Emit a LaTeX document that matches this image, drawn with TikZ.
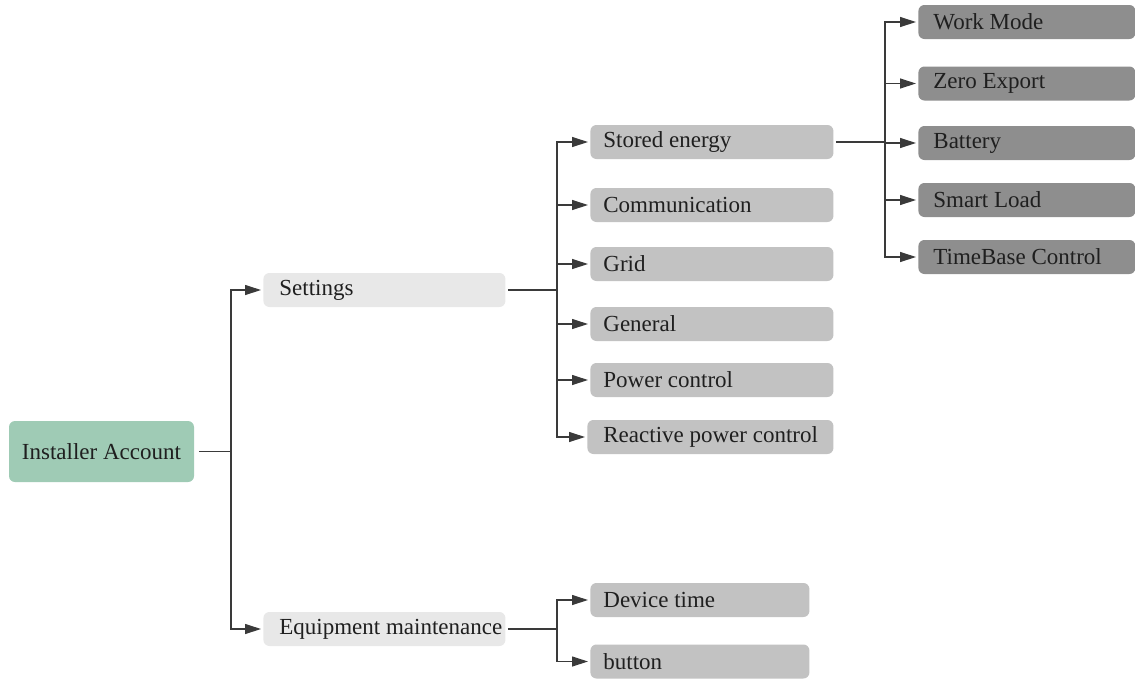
\documentclass[tikz,border=0pt]{standalone}
\usepackage{fontspec}
\setmainfont{Liberation Serif}
\usetikzlibrary{arrows.meta}
\definecolor{rootgreen}{HTML}{9FCBB5}
\definecolor{boxone}{HTML}{E8E8E8}
\definecolor{boxtwo}{HTML}{C2C2C2}
\definecolor{boxthree}{HTML}{8E8E8E}
\definecolor{linegray}{HTML}{3A3A3A}
\begin{document}
\begin{tikzpicture}[x=0.5pt,y=-0.5pt,
	box/.style={rounded corners=3pt,anchor=west,align=flush left,minimum height=17pt,inner sep=0pt,
		font=\fontsize{11.5}{13}\selectfont,text=black!88},
	pad/.style={execute at begin node={\hspace*{#1}}},
	rootbox/.style={box,anchor=center,align=flush center,fill=rootgreen,minimum width=92.5pt,minimum height=30.5pt},
	lvlone/.style={box,fill=boxone,text width=121pt,pad=8pt},
	lvltwo/.style={box,fill=boxtwo,text width=121.5pt,pad=6.5pt},
	lvlthree/.style={box,fill=boxthree,text width=108.5pt,pad=7.5pt},
	link/.style={draw=linegray,line width=0.6pt},
	linkarrow/.style={link,-{Triangle[length=8pt,width=5pt]},shorten >=1pt}]
	\useasboundingbox (0,0) rectangle (1135,681);
	\node[rootbox] (root) at (101.5,451.5) {Installer Account};
	\node[lvlone] (set) at (263,290) {Settings};
	\node[lvlone] (eqp) at (263,629) {Equipment maintenance};
	\node[lvltwo] (sto) at (590,142) {Stored energy};
	\node[lvltwo] (com) at (590,205) {Communication};
	\node[lvltwo] (grd) at (590,264) {Grid};
	\node[lvltwo] (gen) at (590,324) {General};
	\node[lvltwo] (pwr) at (590,380) {Power control};
	\node[lvltwo,text width=123pt,pad=1.5pt] (rea) at (587,437) {Reactive power control};
	\node[lvltwo,text width=109.5pt] (dev) at (590,600) {Device time};
	\node[lvltwo,text width=109.5pt] (btn) at (590,661.5) {button};
	\node[lvlthree] (wrk) at (918,22) {Work Mode};
	\node[lvlthree] (zer) at (918,83.5) {Zero Export};
	\node[lvlthree] (bat) at (918,143) {Battery};
	\node[lvlthree] (sml) at (918,200) {Smart Load};
	\node[lvlthree] (tbc) at (918,257) {TimeBase Control};
	\coordinate (jroot) at (231,451.5);
	\coordinate (jset) at (557,290);
	\coordinate (jsto) at (885,142);
	\coordinate (jeqp) at (557,629);
	\draw[link,shorten <=2.5pt] (root) -- (jroot);
	\draw[linkarrow] (jroot) |- (set);
	\draw[linkarrow] (jroot) |- (eqp);
	\draw[link,shorten <=1pt] (set) -- (jset);
	\draw[linkarrow] (jset) |- (sto);
	\draw[linkarrow] (jset) |- (com);
	\draw[linkarrow] (jset) |- (grd);
	\draw[linkarrow] (jset) |- (gen);
	\draw[linkarrow] (jset) |- (pwr);
	\draw[linkarrow] (jset) |- (rea);
	\draw[link,shorten <=1pt] (sto) -- (jsto);
	\draw[linkarrow] (jsto) |- (wrk);
	\draw[linkarrow] (jsto) |- (zer);
	\draw[linkarrow] (jsto) |- (bat);
	\draw[linkarrow] (jsto) |- (sml);
	\draw[linkarrow] (jsto) |- (tbc);
	\draw[link,shorten <=1pt] (eqp) -- (jeqp);
	\draw[linkarrow] (jeqp) |- (dev);
	\draw[linkarrow] (jeqp) |- (btn);
\end{tikzpicture}
\end{document}
